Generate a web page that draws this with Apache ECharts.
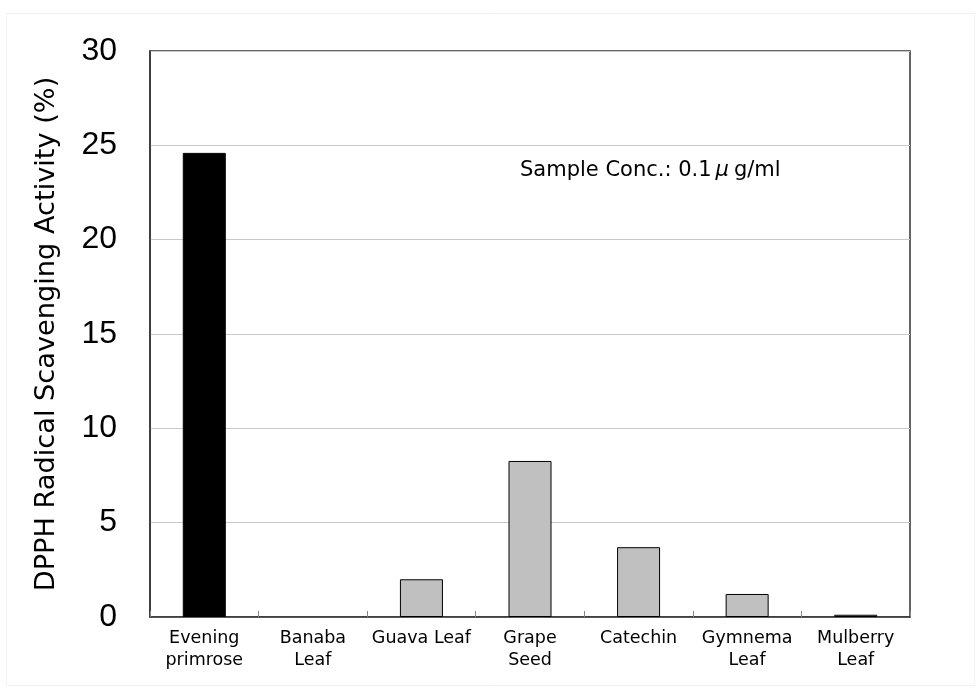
<!DOCTYPE html>
<html><head><meta charset="utf-8">
<script src="https://cdn.jsdelivr.net/npm/echarts@6/dist/echarts.min.js"></script>
<style>html,body{margin:0;padding:0;background:#fff}#c{width:977px;height:687px}</style>
</head><body><div id="c"></div>
<script>
const categories = ['Evening\nprimrose','Banaba\nLeaf','Guava Leaf','Grape\nSeed','Catechin','Gymnema\nLeaf','Mulberry\nLeaf'];
const values = [24.6, 0, 2.0, 8.27, 3.7, 1.22, 0.12];
const barColors = ['#000000','#c0c0c0','#c0c0c0','#c0c0c0','#c0c0c0','#c0c0c0','#c0c0c0'];
const yTicks = [0,5,10,15,20,25,30];
const annotationParts = ['Sample Conc.: 0.1', '\u03bc', 'g/ml'];

const chart = echarts.init(document.getElementById('c'));
chart.setOption({
  animation:false,
  backgroundColor:'#fff',
  grid:{left:150,right:67,top:51,bottom:70,show:true,borderColor:'#333',borderWidth:1.5,backgroundColor:'transparent'},
  xAxis:{type:'category',data:categories,
    axisLine:{lineStyle:{color:'#333',width:1.5}},
    axisTick:{show:true,inside:true,length:6,lineStyle:{color:'#888'}},
    axisLabel:{color:'#000',fontSize:17.5,fontFamily:'"DejaVu Sans", sans-serif',lineHeight:22,margin:10,interval:0}
  },
  yAxis:{type:'value',min:0,max:30,interval:5,
    name:'DPPH Radical Scavenging Activity (%)',nameLocation:'middle',nameGap:90,
    nameTextStyle:{color:'#000',fontSize:27.2,fontFamily:'"DejaVu Sans", sans-serif'},
    axisLine:{show:true,lineStyle:{color:'#333',width:1.5}},
    axisTick:{show:false},
    axisLabel:{color:'#000',fontSize:32,fontFamily:'Liberation Sans, Arial, sans-serif',margin:33},
    splitLine:{show:true,lineStyle:{color:'#c8c8c8',width:1}}
  },
  series:[{type:'bar',barWidth:43,
    data:values.map((v,i)=>({value:v,itemStyle:{color:barColors[i],borderColor:'#000',borderWidth:v===0?0:1}})),
  }],
  graphic:[
    {type:'rect',left:4,top:11,shape:{width:968,height:672},style:{fill:'none',stroke:'#f2f2f2',lineWidth:1},silent:true,z:-10},
    {type:'text',left:520,top:160,style:{
      text:'{a|'+annotationParts[0]+'}{m|'+annotationParts[1]+'}{a|'+annotationParts[2]+'}',
      rich:{
        a:{fill:'#000',fontSize:21,fontFamily:'"DejaVu Sans", sans-serif'},
        m:{fill:'#000',fontSize:21,fontStyle:'italic',fontFamily:'"DejaVu Sans", sans-serif',padding:[0,5,0,4]}
      }}}
  ]
});
</script></body></html>
